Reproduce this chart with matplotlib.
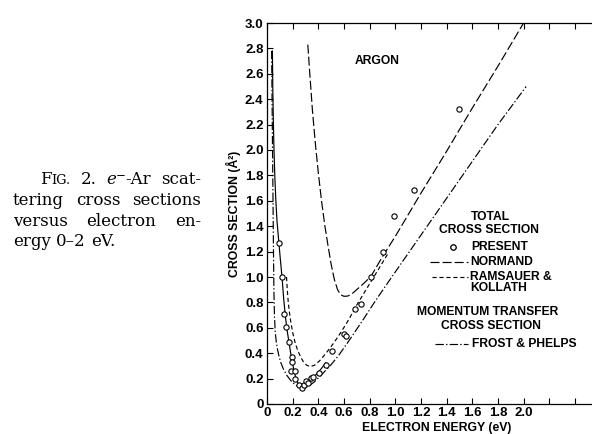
import numpy as np
import matplotlib
matplotlib.use("Agg")
import matplotlib.pyplot as plt
from matplotlib.lines import Line2D

plt.rcParams['font.family'] = ['Liberation Sans', 'DejaVu Sans']
plt.rcParams['lines.scale_dashes'] = False

# present measurements (open circles)
present_e = [0.095, 0.117, 0.136, 0.145, 0.170, 0.191, 0.193, 0.190, 0.217, 0.215,
             0.250, 0.270, 0.290, 0.302, 0.320, 0.341, 0.361, 0.405, 0.458, 0.510,
             0.600, 0.612, 0.683, 0.729, 0.808, 0.903, 0.993, 1.143, 1.498]
present_q = [1.265, 0.998, 0.710, 0.610, 0.487, 0.371, 0.334, 0.262, 0.263, 0.197,
             0.148, 0.124, 0.150, 0.180, 0.167, 0.208, 0.216, 0.244, 0.308, 0.419,
             0.555, 0.532, 0.751, 0.788, 0.997, 1.196, 1.481, 1.684, 2.326]

# curve drawn through the present points
fit_e = [0.042, 0.045, 0.049, 0.054, 0.060, 0.068, 0.078, 0.090, 0.103, 0.117, 0.130,
         0.143, 0.157, 0.172, 0.188, 0.205, 0.222, 0.240, 0.258, 0.275, 0.295, 0.320,
         0.350, 0.385, 0.420, 0.460]
fit_q = [2.78, 2.50, 2.25, 2.02, 1.82, 1.62, 1.44, 1.30, 1.15, 1.00, 0.83,
         0.69, 0.58, 0.48, 0.38, 0.29, 0.215, 0.165, 0.135, 0.122, 0.130, 0.160,
         0.195, 0.235, 0.275, 0.325]

normand_e = [0.318, 0.335, 0.355, 0.378, 0.400, 0.425, 0.450, 0.475, 0.500, 0.525, 0.550,
             0.575, 0.600, 0.630, 0.665, 0.710, 0.760, 0.810, 0.900, 1.00, 1.20, 1.40,
             1.60, 1.80, 2.00]
normand_q = [2.83, 2.58, 2.30, 2.04, 1.82, 1.60, 1.41, 1.25, 1.10, 0.98, 0.90,
             0.86, 0.848, 0.850, 0.870, 0.910, 0.955, 1.005, 1.16, 1.32, 1.66, 1.99,
             2.33, 2.66, 3.00]

ramsauer_e = [0.152, 0.158, 0.165, 0.175, 0.188, 0.203, 0.220, 0.240, 0.262, 0.285, 0.310,
              0.338, 0.370, 0.410, 0.460, 0.520, 0.580, 0.640, 0.700, 0.760, 0.820, 0.880,
              0.940]
ramsauer_q = [1.00, 0.90, 0.81, 0.72, 0.63, 0.55, 0.48, 0.42, 0.37, 0.33, 0.305,
              0.295, 0.305, 0.34, 0.40, 0.48, 0.57, 0.67, 0.78, 0.88, 0.98, 1.08,
              1.18]

frost_e = [0.036, 0.039, 0.042, 0.045, 0.048, 0.051, 0.054, 0.058, 0.064, 0.072, 0.082,
           0.095, 0.110, 0.130, 0.155, 0.185, 0.215, 0.245, 0.275, 0.305, 0.335, 0.370,
           0.410, 0.455, 0.500, 0.560, 0.640, 0.740, 0.850, 1.00, 1.20, 1.40, 1.60,
           1.80, 2.02]
frost_q = [2.78, 2.45, 2.12, 1.80, 1.48, 1.15, 0.88, 0.70, 0.57, 0.49, 0.43,
           0.37, 0.32, 0.27, 0.225, 0.185, 0.155, 0.136, 0.128, 0.132, 0.148, 0.175,
           0.215, 0.262, 0.31, 0.385, 0.50, 0.65, 0.82, 1.04, 1.33, 1.62, 1.91,
           2.20, 2.50]

xticks = [0.2 * i for i in range(13)]
xticklabels = ['0', '0.2', '0.4', '0.6', '0.8', '1.0', '1.2', '1.4', '1.6', '1.8', '2.0', '', '']
yticks = [0.2 * i for i in range(16)]
yticklabels = ['0'] + ['%.1f' % v for v in yticks[1:]]

LONG = (0, (6.5, 2.2))
SHORT = (0, (3.0, 2.0))
DASHDOT = (0, (6.0, 1.6, 1.0, 1.6))
lw = 0.85

fig = plt.figure(figsize=(5.92, 4.34), dpi=100)
ax = fig.add_axes([267 / 592, 30 / 434, 325 / 592, 381 / 434])

ax.plot(fit_e, fit_q, color='k', lw=lw)
ax.plot(normand_e, normand_q, color='k', lw=lw, linestyle=LONG)
ax.plot(ramsauer_e, ramsauer_q, color='k', lw=lw, linestyle=SHORT)
ax.plot(frost_e, frost_q, color='k', lw=lw, linestyle=DASHDOT)
ax.plot(present_e, present_q, 'o', mfc='white', mec='k', ms=3.8, mew=0.8)

ax.set_xlim(0, 325 / 128.3)
ax.set_ylim(0, 3.0)
ax.set_xticks(xticks)
ax.set_xticklabels(xticklabels, fontweight='bold')
ax.set_yticks(yticks)
ax.set_yticklabels(yticklabels, fontweight='bold')
ax.tick_params(axis='both', direction='in', length=4, width=0.8, labelsize=9.5, pad=2.5)
ax.tick_params(axis='x', top=True)
ax.spines['right'].set_visible(False)
for s in ['left', 'bottom', 'top']:
    ax.spines[s].set_linewidth(0.9)

ax.set_xlabel('ELECTRON ENERGY (eV)', fontsize=8.8, fontweight='bold',
              x=(437 - 267) / 325, labelpad=2)
ax.set_ylabel('CROSS SECTION (Å²)', fontsize=8.8, fontweight='bold', labelpad=3)

# text blocks inside the axes (pixel positions of the original converted to axes fractions)
def axpos(px, py):
    return (px - 267) / 325, (404 - py) / 381

tkw = dict(transform=ax.transAxes, fontsize=8.7, fontweight='bold', va='center')
ax.text(*axpos(377, 61), 'ARGON', ha='center', **tkw)
ax.text(*axpos(490, 217), 'TOTAL', ha='center', **tkw)
ax.text(*axpos(489, 230), 'CROSS SECTION', ha='center', **tkw)
ax.text(*axpos(471, 247), 'PRESENT', ha='left', **tkw)
ax.text(*axpos(470, 262), 'NORMAND', ha='left', **tkw)
ax.text(*axpos(470, 277), 'RAMSAUER &', ha='left', **tkw)
ax.text(*axpos(470, 288), 'KOLLATH', ha='left', **tkw)
ax.text(*axpos(488, 312), 'MOMENTUM TRANSFER', ha='center', **tkw)
ax.text(*axpos(491, 326), 'CROSS SECTION', ha='center', **tkw)
ax.text(*axpos(472, 344), 'FROST & PHELPS', ha='left', **tkw)

samples = [(453, 453, 247, dict(marker='o', ls='none', mfc='white', mec='k', ms=3.8, mew=0.8)),
           (430, 468, 262, dict(ls=LONG)),
           (432, 468, 277, dict(ls=SHORT)),
           (435, 468, 344, dict(ls=DASHDOT))]
for x0, x1, yy, kw in samples:
    (ax0, ay), (ax1, _) = axpos(x0, yy), axpos(x1, yy)
    ax.add_line(Line2D([ax0, ax1], [ay, ay], transform=ax.transAxes, color='k', lw=lw, **kw))

# figure caption, justified like the printed page
fig.canvas.draw()
rend = fig.canvas.get_renderer()
cap_font = 'DejaVu Serif'

def place_line(words, x0, x1, base_py, justify=True):
    # each word is a list of (text, size, style, raise_px)
    parts_all = []
    for word in words:
        parts = []
        for s, size, style, dy in word:
            y = 1 - (base_py - dy) / 434
            t = fig.text(0, y, s, fontsize=size, family=cap_font, style=style,
                         va='baseline', ha='left')
            w = t.get_window_extent(rend).width
            parts.append((t, w))
        parts_all.append(parts)
    widths = [sum(w for _, w in p) for p in parts_all]
    if justify and len(words) > 1:
        gap = (x1 - x0 - sum(widths)) / (len(words) - 1)
    else:
        gap = 5.3
    x = x0
    for p in parts_all:
        for t, w in p:
            t.set_x(x / 592)
            x += w
        x += gap

S = 12
def w(s, size=S, style='normal', dy=0):
    return (s, size, style, dy)

place_line([[w('F'), w('IG.', 9.3)], [w('2.')],
            [w('e', style='italic'), w('−', 8.5, dy=6), w('-Ar')], [w('scat-')]],
           40, 201, 184)
place_line([[w('tering')], [w('cross')], [w('sections')]], 13, 201, 205)
place_line([[w('versus')], [w('electron')], [w('en-')]], 13, 201, 225.5)
place_line([[w('ergy')], [w('0–2')], [w('eV.')]], 13, 201, 246, justify=False)

fig.savefig('out.png', dpi=100)
